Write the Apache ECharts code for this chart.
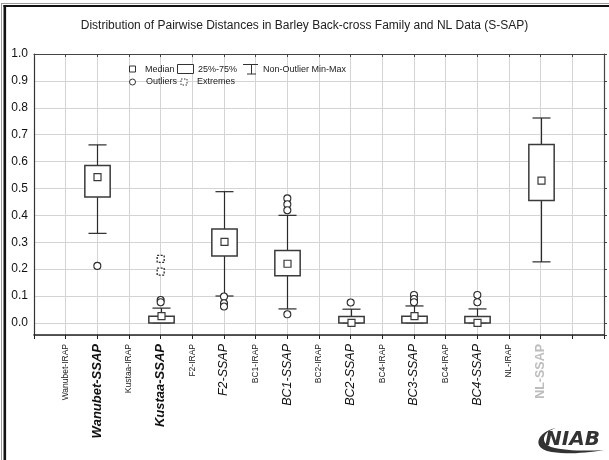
<!DOCTYPE html>
<html>
<head>
<meta charset="utf-8">
<style>
html,body{margin:0;padding:0;background:#fff;}
#chart{width:609px;height:460px;}
</style>
<script src="https://cdn.jsdelivr.net/npm/echarts@6/dist/echarts.min.js"></script>
</head>
<body>
<div id="chart"></div>
<script>
// ---- data ----
const categories = ['Wanubet-IRAP','Wanubet-SSAP','Kustaa-IRAP','Kustaa-SSAP','F2-IRAP','F2-SSAP',
  'BC1-IRAP','BC1-SSAP','BC2-IRAP','BC2-SSAP','BC4-IRAP','BC3-SSAP','BC4-IRAP','BC4-SSAP','NL-IRAP','NL-SSAP'];
const boxCategories = ['Wanubet-SSAP','Kustaa-SSAP','F2-SSAP','BC1-SSAP','BC2-SSAP','BC3-SSAP','BC4-SSAP','NL-SSAP'];
const whiskerLow  = [0.333, 0.000, 0.100, 0.052, 0.000, 0.000, 0.000, 0.227];
const quartile1   = [0.468, 0.000, 0.249, 0.175, 0.000, 0.000, 0.000, 0.455];
const median      = [0.542, 0.025, 0.301, 0.220, 0.000, 0.025, 0.000, 0.529];
const quartile3   = [0.585, 0.025, 0.349, 0.269, 0.024, 0.025, 0.024, 0.663];
const whiskerHigh = [0.662, 0.055, 0.488, 0.400, 0.051, 0.063, 0.052, 0.762];
const outlierCategory = ['Wanubet-SSAP','Kustaa-SSAP','Kustaa-SSAP','F2-SSAP','F2-SSAP','F2-SSAP',
  'BC1-SSAP','BC1-SSAP','BC1-SSAP','BC1-SSAP','BC2-SSAP','BC3-SSAP','BC3-SSAP','BC3-SSAP','BC4-SSAP','BC4-SSAP'];
const outlierValue = [0.212, 0.085, 0.077, 0.098, 0.073, 0.061,
  0.463, 0.441, 0.419, 0.032, 0.076, 0.104, 0.089, 0.077, 0.104, 0.077];
const extremeCategory = ['Kustaa-SSAP','Kustaa-SSAP'];
const extremeValue = [0.238, 0.191];
const yMin = -0.045, yMax = 1.0;

// ---- helpers ----
const pos = c => categories.indexOf(c) + 1;
function labelKey(name){
  if (/IRAP$/.test(name)) return 'irap';
  if (/^NL/.test(name)) return 'nl';
  if (/^(Wanubet|Kustaa)/.test(name)) return 'bi';
  return 'it';
}
const FONT = 'Liberation Sans, Arial, sans-serif';
const INK = '#2a2a2a';

function renderBox(params, api){
  const x = api.value(0);
  const lo = api.coord([x, api.value(1)]);
  const p1 = api.coord([x, api.value(2)]);
  const md = api.coord([x, api.value(3)]);
  const p3 = api.coord([x, api.value(4)]);
  const hi = api.coord([x, api.value(5)]);
  const unit = api.size([1, 0])[0];
  const bw = unit * 0.8, cw = unit * 0.57, ms = 7;
  const cx = Math.round(lo[0]) + 0.5;
  const ls = {stroke: INK, lineWidth: 1.2};
  return {type:'group', children:[
    {type:'line', shape:{x1:cx, y1:hi[1], x2:cx, y2:p3[1]}, style:ls},
    {type:'line', shape:{x1:cx, y1:p1[1], x2:cx, y2:lo[1]}, style:ls},
    {type:'line', shape:{x1:cx-cw/2, y1:hi[1], x2:cx+cw/2, y2:hi[1]}, style:ls},
    {type:'line', shape:{x1:cx-cw/2, y1:lo[1], x2:cx+cw/2, y2:lo[1]}, style:ls},
    {type:'rect', shape:{x:cx-bw/2, y:p3[1], width:bw, height:Math.max(p1[1]-p3[1],0.5)},
      style:{fill:'#fff', stroke:'#3a3a3a', lineWidth:1.5}},
    {type:'rect', shape:{x:cx-ms/2, y:md[1]-ms/2, width:ms, height:ms},
      style:{fill:'#fff', stroke:'#3a3a3a', lineWidth:1.2}}
  ]};
}

// logo swoosh outline (decoration) sampled from cubic curves
function bez(p0,p1,p2,p3,n){
  const out=[];
  for(let i=0;i<=n;i++){const t=i/n,u=1-t;
    out.push([u*u*u*p0[0]+3*u*u*t*p1[0]+3*u*t*t*p2[0]+t*t*t*p3[0],
              u*u*u*p0[1]+3*u*u*t*p1[1]+3*u*t*t*p2[1]+t*t*t*p3[1]]);}
  return out;
}
const swoosh = [].concat(
  bez([556,428],[539,431],[531,446],[547,451],12),
  bez([547,451],[565,455],[586,453],[604,450],12),
  bez([604,450],[586,451],[566,451],[551,447],12),
  bez([551,447],[540,443],[542,432],[556,428],12)
);

const chart = echarts.init(document.getElementById('chart'), null, {renderer:'canvas'});
const gridColor = '#d4d4d4';
const legendText = (x, y, t) => ({type:'text', x:x, y:y, style:{text:t, font:'9px ' + FONT, fill:'#222', textVerticalAlign:'middle'}, z:10});

chart.setOption({
  animation:false,
  backgroundColor:'#fff',
  title:{text:'Distribution of Pairwise Distances in Barley Back-cross Family and NL Data (S-SAP)',
    left:'center', top:15, textStyle:{fontFamily:FONT, fontSize:12, fontWeight:'normal', color:'#222'}},
  grid:{left:34, right:5, top:54, bottom:125},
  xAxis:[{
    type:'value', min:0, max:categories.length + 2, interval:1, position:'bottom',
    axisLine:{show:true, onZero:false, lineStyle:{color:'#222', width:1.6}},
    axisTick:{show:true, length:4, lineStyle:{color:'#222'}},
    splitLine:{show:true, lineStyle:{color:gridColor, width:1}},
    axisLabel:{rotate:90, margin:9,
      formatter:v => { const n = categories[v-1]; return n ? '{' + labelKey(n) + '|' + n + '}' : ''; },
      rich:{
        irap:{fontFamily:FONT, fontSize:8.5, color:'#222'},
        bi:{fontFamily:FONT, fontSize:13, fontWeight:'bold', fontStyle:'italic', color:'#111'},
        it:{fontFamily:FONT, fontSize:12.5, fontStyle:'italic', color:'#111'},
        nl:{fontFamily:FONT, fontSize:12.5, fontWeight:'bold', color:'#bdbdbd'}
      }}
  },{
    type:'value', min:0, max:categories.length + 2, interval:1, position:'top',
    axisLine:{show:true, onZero:false, lineStyle:{color:'#444', width:1.2}},
    axisTick:{show:true, inside:true, length:3, lineStyle:{color:'#444'}},
    axisLabel:{show:false}, splitLine:{show:false}
  }],
  yAxis:[{
    type:'value', min:yMin, max:yMax, splitNumber:10, position:'left',
    axisLine:{show:true, onZero:false, lineStyle:{color:'#333', width:1.2}},
    axisTick:{show:false},
    splitLine:{show:true, lineStyle:{color:gridColor, width:1}},
    axisLabel:{margin:6, color:'#111', fontFamily:FONT, fontSize:12,
      formatter:v => v < -0.001 ? '' : v.toFixed(1)}
  },{
    type:'value', min:yMin, max:yMax, splitNumber:10, position:'right',
    axisLine:{show:true, onZero:false, lineStyle:{color:'#444', width:1.2}},
    axisTick:{show:true, length:3, lineStyle:{color:'#444'}},
    axisLabel:{show:false}, splitLine:{show:false}
  }],
  series:[
    {type:'custom', renderItem:renderBox, xAxisIndex:0, yAxisIndex:0, z:3,
      encode:{x:0, y:[1,2,3,4,5]},
      data:boxCategories.map((c,i)=>[pos(c), whiskerLow[i], quartile1[i], median[i], quartile3[i], whiskerHigh[i]])},
    {type:'scatter', symbol:'circle', symbolSize:7, z:4,
      itemStyle:{color:'#fff', borderColor:INK, borderWidth:1.1, opacity:1},
      data:outlierCategory.map((c,i)=>[pos(c), outlierValue[i]])},
    {type:'scatter', symbol:'rect', symbolSize:7, z:4,
      itemStyle:{color:'#fff', borderColor:INK, borderWidth:1.3, borderType:[2,1.5], opacity:1},
      data:extremeCategory.map((c,i)=>[pos(c), extremeValue[i]])}
  ],
  graphic:[
    // frame
    {type:'line', shape:{x1:1.5, y1:4, x2:1.5, y2:460}, style:{stroke:'#9a9a9a', lineWidth:1}},
    {type:'line', shape:{x1:1, y1:3.5, x2:609, y2:3.5}, style:{stroke:'#9a9a9a', lineWidth:1}},
    {type:'line', shape:{x1:4.8, y1:5, x2:4.8, y2:460}, style:{stroke:'#111', lineWidth:2.6}},
    {type:'line', shape:{x1:3.5, y1:6, x2:609, y2:6}, style:{stroke:'#111', lineWidth:2.2}},
    // legend
    {type:'rect', shape:{x:129.5, y:66, width:6, height:6}, style:{fill:'#fff', stroke:'#333', lineWidth:1}, z:10},
    legendText(145, 69.5, 'Median'),
    {type:'rect', shape:{x:177.5, y:64.5, width:16, height:9}, style:{fill:'#fff', stroke:'#333', lineWidth:1}, z:10},
    legendText(198, 69.5, '25%-75%'),
    {type:'line', shape:{x1:243, y1:64.5, x2:258, y2:64.5}, style:{stroke:'#333', lineWidth:1}, z:10},
    {type:'line', shape:{x1:251.5, y1:64.5, x2:251.5, y2:74}, style:{stroke:'#333', lineWidth:1}, z:10},
    {type:'line', shape:{x1:247, y1:74, x2:256, y2:74}, style:{stroke:'#333', lineWidth:1}, z:10},
    legendText(263, 69.5, 'Non-Outlier Min-Max'),
    {type:'circle', shape:{cx:132.5, cy:82, r:3}, style:{fill:'#fff', stroke:'#333', lineWidth:1}, z:10},
    legendText(146, 82, 'Outliers'),
    {type:'rect', shape:{x:181, y:79, width:6, height:6}, style:{fill:'#fff', stroke:'#333', lineWidth:1, lineDash:[1.5,1.5]}, z:10},
    legendText(197, 82, 'Extremes'),
    // NIAB logo
    {type:'polygon', shape:{points:swoosh}, style:{fill:'#333'}, z:10},
    {type:'text', x:545, y:440, style:{text:'NIAB', font:'italic bold 20px DejaVu Sans, sans-serif', fill:'#333', textVerticalAlign:'middle'}, z:11}
  ]
});
</script>
</body>
</html>
